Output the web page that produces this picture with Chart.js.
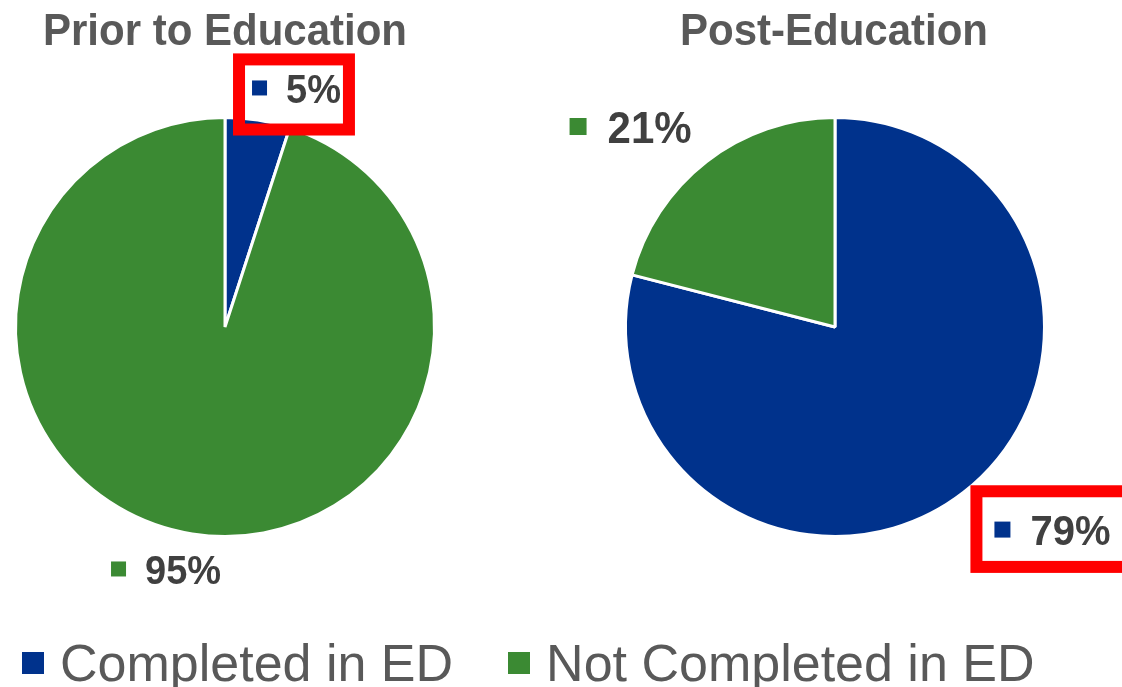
<!DOCTYPE html>
<html>
<head>
<meta charset="utf-8">
<title>ED completion before and after education</title>
<script src="https://cdn.jsdelivr.net/npm/chart.js@4.4.0/dist/chart.umd.min.js"></script>
<style>
    html, body { margin: 0; padding: 0; background: #fff; }
    body {
        width: 1122px;
        height: 687px;
        position: relative;
        overflow: hidden;
        font-family: "Liberation Sans", Arial, sans-serif;
    }
    canvas { position: absolute; top: 0; }
    #pie-prior { left: 0; }
    #pie-post { left: 561px; }
    .title {
        position: absolute;
        top: 9px;
        width: 560px;
        text-align: center;
        font-weight: bold;
        font-size: 42px;
        line-height: 42px;
        color: #595959;
        transform: scaleY(1.07);
        z-index: 2;
    }
    #legend {
        position: absolute;
        left: 22px;
        top: 637px;
        display: flex;
        align-items: center;
        font-size: 52px;
        line-height: 52px;
        color: #595959;
        white-space: nowrap;
        z-index: 2;
    }
    .legend-item { display: flex; align-items: center; margin-right: 55px; }
    .legend-box { width: 22px; height: 22px; margin-right: 16px; }
</style>
</head>
<body>
<canvas id="pie-prior" width="561" height="654"></canvas>
<canvas id="pie-post" width="561" height="654"></canvas>
<div class="title" style="left:-55px">Prior to Education</div>
<div class="title" style="left:554px">Post-Education</div>
<div id="legend"></div>

<script>
// Data
const categories = ['Completed in ED', 'Not Completed in ED'];
const priorValues = [5, 95];
const postValues = [79, 21];
const sliceColors = ['#00328C', '#3B8A33'];

// Where each percentage label sits, relative to the pie centre (in radii)
const priorLabels = [
    { dx: 0.129, dy: -1.141, font: 38, box: { l: 19, t: 20, r: 14, b: 33 } },
    { dx: -0.544, dy: 1.155, font: 38 }
];
const postLabels = [
    { dx: 0.761, dy: 0.967, font: 40, box: { l: 24, t: 29, r: 40, b: 28 } },
    { dx: -1.267, dy: -0.957, font: 42 }
];

/**
 * Draws "■ 12%" labels next to each slice, with an optional red highlight box
 */
const pieLabels = {
    id: 'pieLabels',
    afterDraw(chart, args, opts) {
        const ctx = chart.ctx;
        const meta = chart.getDatasetMeta(0);
        const dataset = chart.data.datasets[0];
        const stretch = 1.07;

        meta.data.forEach((arc, i) => {
            const item = opts.items[i];
            if (!item) return;

            const r = arc.outerRadius;
            const x = arc.x + item.dx * r;
            const cy = arc.y + item.dy * r;
            const size = Math.round(item.font * 0.4);
            const gap = Math.round(item.font * 0.5);
            const text = dataset.data[i] + '%';
            const capH = 0.716 * item.font * stretch;
            const baseline = cy + capH / 2;

            ctx.save();
            ctx.fillStyle = dataset.backgroundColor[i];
            ctx.fillRect(x, cy - size / 2, size, size);

            ctx.font = 'bold ' + item.font + 'px "Liberation Sans", Arial, sans-serif';
            ctx.fillStyle = '#404040';
            ctx.textBaseline = 'alphabetic';
            ctx.textAlign = 'left';
            const textX = x + size + gap;
            const textW = ctx.measureText(text).width;
            ctx.translate(textX, baseline);
            ctx.scale(1, stretch);
            ctx.fillText(text, 0, 0);
            ctx.restore();

            if (item.box) {
                const left = x - item.box.l;
                const top = cy - capH / 2 - item.box.t;
                const right = textX + textW + item.box.r;
                const bottom = baseline + item.box.b;
                ctx.save();
                ctx.strokeStyle = '#FF0000';
                ctx.lineWidth = 12;
                ctx.strokeRect(left + 6, top + 6, right - left - 12, bottom - top - 12);
                ctx.restore();
            }
        });
    }
};

function makePie(canvasId, values, padding, labelItems) {
    const canvas = document.getElementById(canvasId);
    return new Chart(canvas.getContext('2d'), {
        type: 'pie',
        data: {
            labels: categories,
            datasets: [{
                data: values,
                backgroundColor: sliceColors,
                borderColor: '#ffffff',
                borderWidth: 3
            }]
        },
        options: {
            responsive: false,
            animation: false,
            layout: { padding: padding },
            plugins: {
                legend: { display: false },
                title: { display: false },
                tooltip: { enabled: false },
                pieLabels: { items: labelItems }
            }
        },
        plugins: [pieLabels]
    });
}

makePie('pie-prior', priorValues, { left: 14, right: 125, top: 0, bottom: 0 }, priorLabels);
makePie('pie-post', postValues, { left: 63, right: 76, top: 0, bottom: 0 }, postLabels);

// Shared legend below both pies
const legend = document.getElementById('legend');
categories.forEach((name, i) => {
    const item = document.createElement('div');
    item.className = 'legend-item';
    const box = document.createElement('span');
    box.className = 'legend-box';
    box.style.background = sliceColors[i];
    const label = document.createElement('span');
    label.textContent = name;
    item.appendChild(box);
    item.appendChild(label);
    legend.appendChild(item);
});
</script>
</body>
</html>
